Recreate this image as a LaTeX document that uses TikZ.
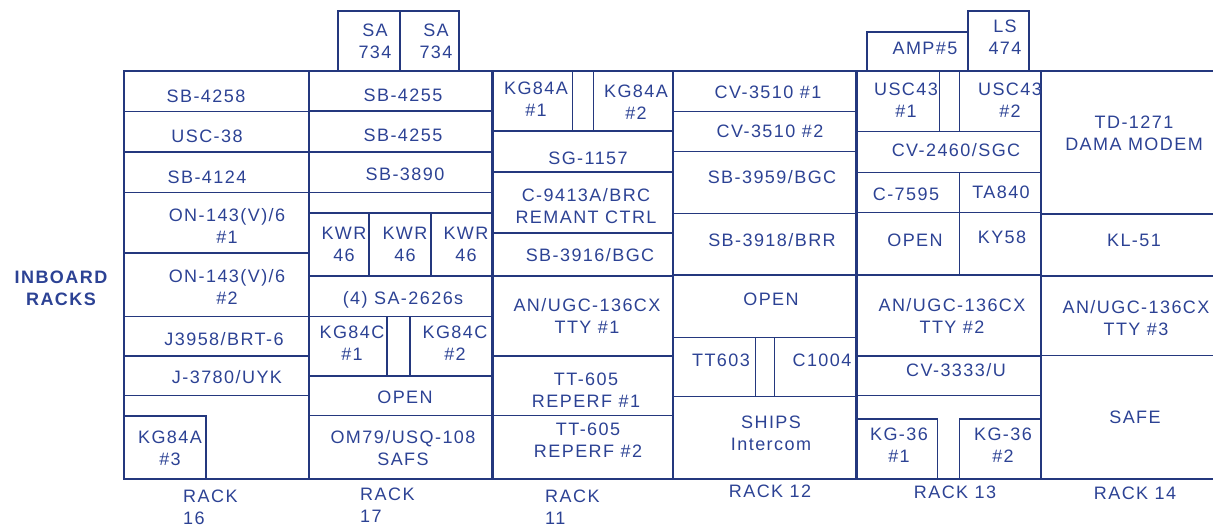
\documentclass[tikz,border=0pt]{standalone}
\usepackage{fontspec}
\setmainfont{Liberation Sans}[LetterSpace=8]
\definecolor{ln}{RGB}{36,56,126}
\definecolor{tx}{RGB}{44,66,148}
\begin{document}
\begin{tikzpicture}[x=1pt,y=-1pt,
  frame/.style={draw=ln,line width=2.4pt},
  inner/.style={draw=ln,line width=1.5pt},
  lbl/.style={text=tx,font=\fontsize{18}{22}\selectfont,align=center,inner sep=0pt},
  rk/.style={lbl,align=left},
  hd/.style={lbl,font=\fontsize{18}{22}\selectfont\bfseries}]
\useasboundingbox (0,0) rectangle (1213,528);
\begin{scope}[inner]
% rack 16
\foreach \y in {111.5,152,192.5,253,316.7,356,395.7} \draw (124,\y) -- (309,\y);
\draw (124,416) -- (206,416) -- (206,479);
% rack 17
\foreach \y in {111,152,192.5,213,276,316.7,376,415.7} \draw (309,\y) -- (492.5,\y);
\draw (369,213) -- (369,276);
\draw (431,213) -- (431,276);
\draw (387,316.7) -- (387,376);
\draw (410,316.7) -- (410,376);
\draw (338,71) -- (338,11) -- (459,11) -- (459,71);
\draw (400,11) -- (400,71);
% rack 11
\foreach \y in {131,172,233,276,356,415.7} \draw (492.5,\y) -- (673,\y);
\draw (572.3,71) -- (572.3,131);
\draw (593.3,71) -- (593.3,131);
% rack 12
\foreach \y in {111.7,151.7,213.3,275,337.7,396.7} \draw (673,\y) -- (856.5,\y);
\draw (755.7,337.7) -- (755.7,396.7);
\draw (774.3,337.7) -- (774.3,396.7);
% rack 13
\foreach \y in {131.7,172.3,212.3,275,356,395.7} \draw (856.5,\y) -- (1041,\y);
\draw (939.3,71) -- (939.3,131.7);
\draw (959.3,71) -- (959.3,131.7);
\draw (959.3,172.3) -- (959.3,275);
\draw (856.5,419) -- (937.3,419) -- (937.3,479);
\draw (1041,419) -- (959.3,419) -- (959.3,479);
\draw (867,71) -- (867,32) -- (968,32);
\draw (968,71) -- (968,11) -- (1029,11) -- (1029,71);
% rack 14
\foreach \y in {214,276,355.3} \draw (1041,\y) -- (1213,\y);
\end{scope}
\draw[frame] (1213,71) -- (124,71) -- (124,479) -- (1213,479);
\foreach \x in {309,492.5,673,856.5,1041} \draw[frame] (\x,71) -- (\x,479);

% header
\node[hd] (inboard) at (61,288.5) {INBOARD\\RACKS};
% rack 16
\node[lbl] (a1) at (206,96.5) {SB-4258};
\node[lbl] (a2) at (207,136.5) {USC-38};
\node[lbl] (a3) at (207,177) {SB-4124};
\node[lbl] (a4) at (227,225.5) {ON-143(V)/6\\\#1};
\node[lbl] (a5) at (227,286.5) {ON-143(V)/6\\\#2};
\node[lbl] (a6) at (224,339.5) {J3958/BRT-6};
\node[lbl] (a7) at (227,377.5) {J-3780/UYK};
\node[lbl] (a8) at (170,448) {KG84A\\\#3};
\node[rk,anchor=west] (r16) at (183,507.5) {RACK\\16};
% rack 17
\node[lbl] (b0) at (375,41.5) {SA\\734};
\node[lbl] (b00) at (436,41.5) {SA\\734};
\node[lbl] (b1) at (403,95) {SB-4255};
\node[lbl] (b2) at (403,135) {SB-4255};
\node[lbl] (b3) at (405,174.5) {SB-3890};
\node[lbl] (b4) at (344,244) {KWR\\46};
\node[lbl] (b5) at (405,244) {KWR\\46};
\node[lbl] (b6) at (466,244) {KWR\\46};
\node[lbl] (b7) at (403,300) {(4) SA-2626s};
\node[lbl] (b8) at (352,343.5) {KG84C\\\#1};
\node[lbl] (b9) at (455,343.5) {KG84C\\\#2};
\node[lbl] (b10) at (405,397.5) {OPEN};
\node[lbl] (b11) at (403,448.5) {OM79/USQ-108\\SAFS};
\node[rk,anchor=west] (r17) at (360,505) {RACK\\17};
% rack 11
\node[lbl] (c1) at (536,99.5) {KG84A\\\#1};
\node[lbl] (c2) at (636,102) {KG84A\\\#2};
\node[lbl] (c3) at (588,158) {SG-1157};
\node[lbl] (c4) at (586,206.5) {C-9413A/BRC\\REMANT CTRL};
\node[lbl] (c5) at (590,255.5) {SB-3916/BGC};
\node[lbl] (c6) at (587,315.5) {AN/UGC-136CX\\TTY \#1};
\node[lbl] (c7) at (586,390) {TT-605\\REPERF \#1};
\node[lbl] (c8) at (588,440) {TT-605\\REPERF \#2};
\node[rk,anchor=west] (r11) at (545,507) {RACK\\11};
% rack 12
\node[lbl] (d1) at (768,92.5) {CV-3510 \#1};
\node[lbl] (d2) at (770,131.5) {CV-3510 \#2};
\node[lbl] (d3) at (772,177.5) {SB-3959/BGC};
\node[lbl] (d4) at (772,240.5) {SB-3918/BRR};
\node[lbl] (d5) at (771,299.5) {OPEN};
\node[lbl] (d6) at (721,360.5) {TT603};
\node[lbl] (d7) at (822,360.5) {C1004};
\node[lbl] (d8) at (771,433.5) {SHIPS\\Intercom};
\node[lbl] (r12) at (770,491) {RACK 12};
% rack 13
\node[lbl] (e0) at (925,48.5) {AMP\#5};
\node[lbl] (e00) at (1005,37.5) {LS\\474};
\node[lbl] (e1) at (906,100) {USC43\\\#1};
\node[lbl] (e2) at (1010,100) {USC43\\\#2};
\node[lbl] (e3) at (956,150.5) {CV-2460/SGC};
\node[lbl] (e4) at (906,194.5) {C-7595};
\node[lbl] (e5) at (1001,192.5) {TA840};
\node[lbl] (e6) at (915,240.5) {OPEN};
\node[lbl] (e7) at (1002,237.5) {KY58};
\node[lbl] (e8) at (952,315.5) {AN/UGC-136CX\\TTY \#2};
\node[lbl] (e9) at (956,370.5) {CV-3333/U};
\node[lbl] (e10) at (899,445.5) {KG-36\\\#1};
\node[lbl] (e11) at (1003,445.5) {KG-36\\\#2};
\node[lbl] (r13) at (955,492.5) {RACK 13};
% rack 14
\node[lbl] (f1) at (1134,133.5) {TD-1271\\DAMA MODEM};
\node[lbl] (f2) at (1134,240.5) {KL-51};
\node[lbl] (f3) at (1136,318.5) {AN/UGC-136CX\\TTY \#3};
\node[lbl] (f4) at (1135,417.5) {SAFE};
\node[lbl] (r14) at (1135,493.5) {RACK 14};
\end{tikzpicture}
\end{document}
